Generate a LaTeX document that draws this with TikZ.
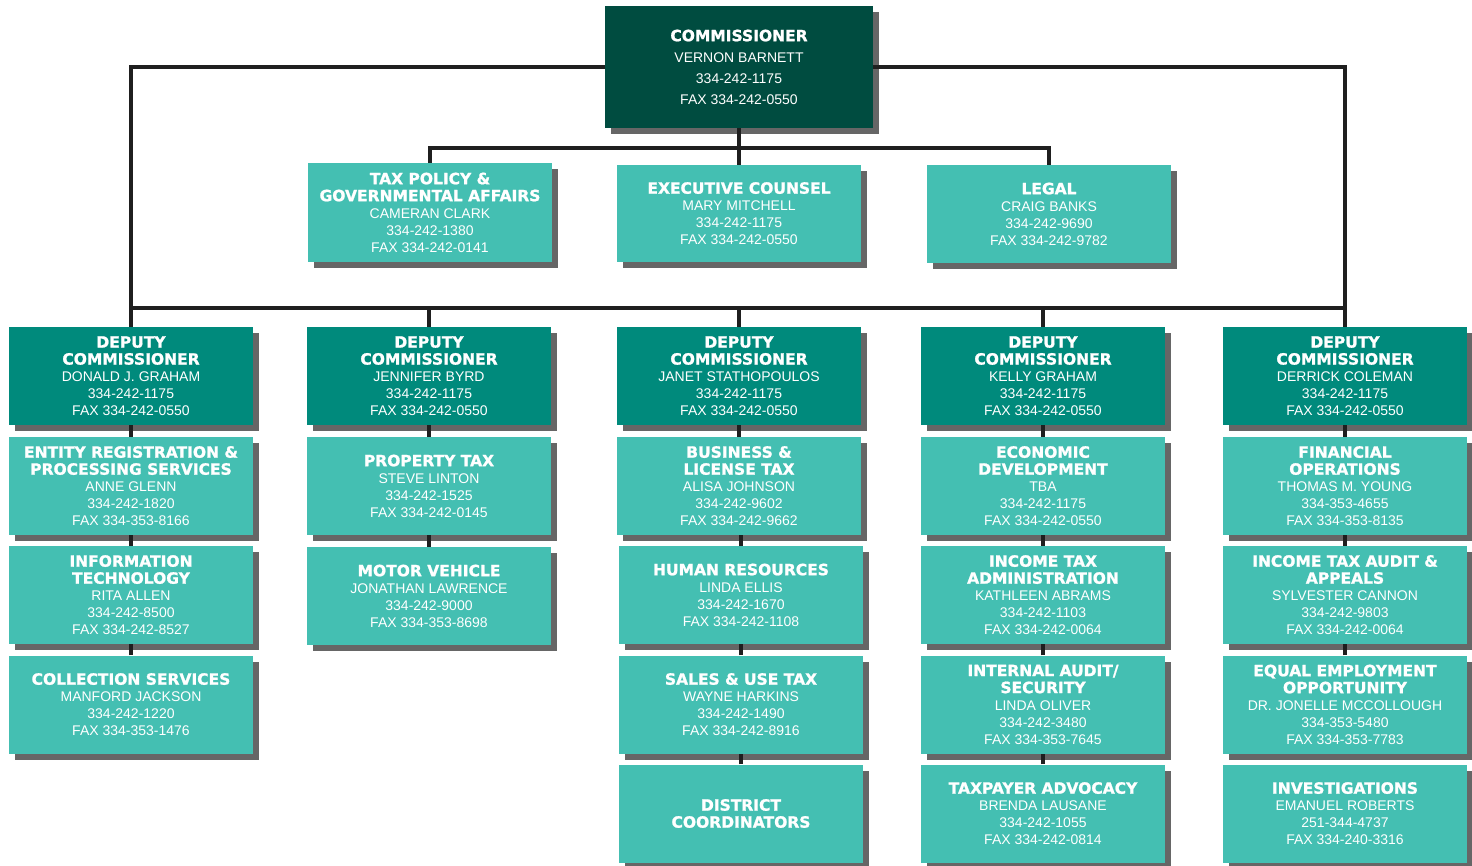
\documentclass[tikz,border=0pt]{standalone}
\usepackage{fontspec}
\setmainfont{Liberation Sans}
\newfontfamily\headfont{DejaVu Sans}[BoldFeatures={FakeBold=1.3}]
\usetikzlibrary{shadows}
\definecolor{chiefgreen}{HTML}{004C40}
\definecolor{deputyteal}{HTML}{008A7C}
\definecolor{officeteal}{HTML}{44BFB2}
\newcommand\hd[1]{{\headfont\bfseries\fontsize{15.5}{17}\selectfont #1}}
\tikzset{
  unit/.style={rectangle, text=white, align=center, inner sep=0pt,
    minimum width=244pt, minimum height=98pt, font=\fontsize{14}{17}\selectfont,
    drop shadow={shadow xshift=6pt, shadow yshift=-6pt, fill=black!80, opacity=.75}},
  chief/.style={unit, fill=chiefgreen, minimum width=268pt, minimum height=122pt,
    font=\fontsize{14}{21}\selectfont},
  deputy/.style={unit, fill=deputyteal},
  office/.style={unit, fill=officeteal},
  wire/.style={line width=3.5pt, black!88}
}
\begin{document}
\begin{tikzpicture}[x=1pt,y=-1pt]
	\useasboundingbox (0,0) rectangle (1472,865);
	% top
	\node[chief] (comm) at (739,67) {\hd{COMMISSIONER}\\VERNON BARNETT\\334-242-1175\\FAX 334-242-0550};
	\node[office, minimum height=99pt] (taxpol) at (430,212.5) {\hd{TAX POLICY \&}\\\hd{GOVERNMENTAL AFFAIRS}\\CAMERAN CLARK\\334-242-1380\\FAX 334-242-0141};
	\node[office, minimum height=97pt] (counsel) at (739,213.5) {\hd{EXECUTIVE COUNSEL}\\MARY MITCHELL\\334-242-1175\\FAX 334-242-0550};
	\node[office] (legal) at (1049,214) {\hd{LEGAL}\\CRAIG BANKS\\334-242-9690\\FAX 334-242-9782};
	% deputies
	\node[deputy] (dgraham) at (131,376) {\hd{DEPUTY}\\\hd{COMMISSIONER}\\DONALD J. GRAHAM\\334-242-1175\\FAX 334-242-0550};
	\node[deputy] (dbyrd) at (429,376) {\hd{DEPUTY}\\\hd{COMMISSIONER}\\JENNIFER BYRD\\334-242-1175\\FAX 334-242-0550};
	\node[deputy] (dstath) at (739,376) {\hd{DEPUTY}\\\hd{COMMISSIONER}\\JANET STATHOPOULOS\\334-242-1175\\FAX 334-242-0550};
	\node[deputy] (dkgraham) at (1043,376) {\hd{DEPUTY}\\\hd{COMMISSIONER}\\KELLY GRAHAM\\334-242-1175\\FAX 334-242-0550};
	\node[deputy] (dcoleman) at (1345,376) {\hd{DEPUTY}\\\hd{COMMISSIONER}\\DERRICK COLEMAN\\334-242-1175\\FAX 334-242-0550};
	% column 1
	\node[office] (entity) at (131,486) {\hd{ENTITY REGISTRATION \&}\\\hd{PROCESSING SERVICES}\\ANNE GLENN\\334-242-1820\\FAX 334-353-8166};
	\node[office] (infotech) at (131,595) {\hd{INFORMATION}\\\hd{TECHNOLOGY}\\RITA ALLEN\\334-242-8500\\FAX 334-242-8527};
	\node[office] (collect) at (131,704.5) {\hd{COLLECTION SERVICES}\\MANFORD JACKSON\\334-242-1220\\FAX 334-353-1476};
	% column 2
	\node[office] (property) at (429,486) {\hd{PROPERTY TAX}\\STEVE LINTON\\334-242-1525\\FAX 334-242-0145};
	\node[office] (motor) at (429,596) {\hd{MOTOR VEHICLE}\\JONATHAN LAWRENCE\\334-242-9000\\FAX 334-353-8698};
	% column 3
	\node[office] (business) at (739,486) {\hd{BUSINESS \&}\\\hd{LICENSE TAX}\\ALISA JOHNSON\\334-242-9602\\FAX 334-242-9662};
	\node[office] (hr) at (741,595) {\hd{HUMAN RESOURCES}\\LINDA ELLIS\\334-242-1670\\FAX 334-242-1108};
	\node[office] (sales) at (741,704.5) {\hd{SALES \& USE TAX}\\WAYNE HARKINS\\334-242-1490\\FAX 334-242-8916};
	\node[office] (district) at (741,813.5) {\hd{DISTRICT}\\\hd{COORDINATORS}};
	% column 4
	\node[office] (econ) at (1043,486) {\hd{ECONOMIC}\\\hd{DEVELOPMENT}\\TBA\\334-242-1175\\FAX 334-242-0550};
	\node[office] (incometax) at (1043,595) {\hd{INCOME TAX}\\\hd{ADMINISTRATION}\\KATHLEEN ABRAMS\\334-242-1103\\FAX 334-242-0064};
	\node[office] (audit) at (1043,704.5) {\hd{INTERNAL AUDIT/}\\\hd{SECURITY}\\LINDA OLIVER\\334-242-3480\\FAX 334-353-7645};
	\node[office] (advocacy) at (1043,813.5) {\hd{TAXPAYER ADVOCACY}\\BRENDA LAUSANE\\334-242-1055\\FAX 334-242-0814};
	% column 5
	\node[office] (finance) at (1345,486) {\hd{FINANCIAL}\\\hd{OPERATIONS}\\THOMAS M. YOUNG\\334-353-4655\\FAX 334-353-8135};
	\node[office] (taxaudit) at (1345,595) {\hd{INCOME TAX AUDIT \&}\\\hd{APPEALS}\\SYLVESTER CANNON\\334-242-9803\\FAX 334-242-0064};
	\node[office] (eeo) at (1345,704.5) {\hd{EQUAL EMPLOYMENT}\\\hd{OPPORTUNITY}\\DR. JONELLE MCCOLLOUGH\\334-353-5480\\FAX 334-353-7783};
	\node[office] (investig) at (1345,813.5) {\hd{INVESTIGATIONS}\\EMANUEL ROBERTS\\251-344-4737\\FAX 334-240-3316};
	% lines
	\coordinate (upbus) at (0,148);
	\coordinate (lowbus) at (0,308);
	\draw[wire] (comm.west) -| (dgraham.north);
	\draw[wire] (comm.east) -| (dcoleman.north);
	\draw[wire] (comm.south) -- (counsel.north);
	\draw[wire] (taxpol.north) -- (taxpol.north |- upbus) -- (legal.north |- upbus) -- (legal.north);
	\draw[wire] (dgraham.north |- lowbus) -- (dcoleman.north |- lowbus);
	\foreach \d in {dbyrd,dstath,dkgraham}
		\draw[wire] (\d.north |- lowbus) -- (\d.north);
	\foreach \a/\b in {dgraham/entity,entity/infotech,infotech/collect,
		dbyrd/property,property/motor,
		dstath/business,business/hr,hr/sales,sales/district,
		dkgraham/econ,econ/incometax,incometax/audit,audit/advocacy,
		dcoleman/finance,finance/taxaudit,taxaudit/eeo}
		\draw[wire] (\b.north) -- (\b.north |- \a.south);
\end{tikzpicture}
\end{document}
